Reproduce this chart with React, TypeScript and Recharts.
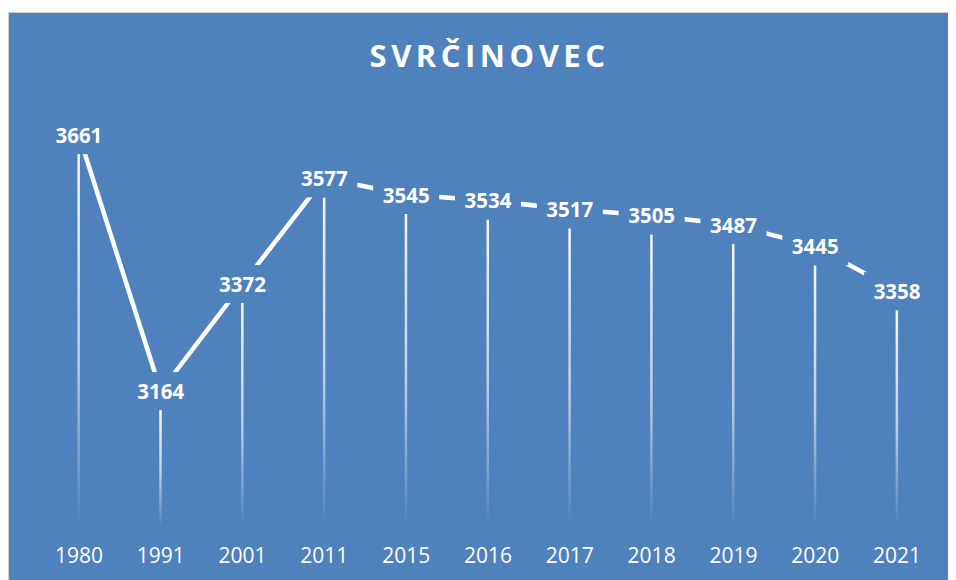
import { ComposedChart, Line, Bar, XAxis, YAxis, LabelList } from 'recharts'

// ─── Datos ────────────────────────────────────────────────────────────────────

const ROKY = ['1980', '1991', '2001', '2011', '2015', '2016', '2017', '2018', '2019', '2020', '2021']
const OBYVATELIA = [3661, 3164, 3372, 3577, 3545, 3534, 3517, 3505, 3487, 3445, 3358]
const Y_DOMENA: [number, number] = [2900, 3700]

const data = ROKY.map((rok, i) => ({ rok, pocet: OBYVATELIA[i] }))

const MODRA = '#4F81BD'
const FONT = '"Open Sans", "DejaVu Sans", sans-serif'

// drop line: tenká čiara od bodu dole, stráca sa do pozadia
function DropLine(props: any) {
  const { x, y, width, height } = props
  const gap = 19
  if (height <= gap) return null
  return (
    <rect
      x={x + width / 2 - 1.25}
      y={y + gap}
      width={2.5}
      height={height - gap}
      fill="url(#dropGrad)"
    />
  )
}

// popisok s modrým podkladom, prekrýva čiaru
function Popis(props: any) {
  const { x, y, value } = props
  return (
    <g>
      <rect x={x - 33} y={y - 19} width={66} height={38} fill={MODRA} />
      <text
        x={x}
        y={y}
        textAnchor="middle"
        dominantBaseline="central"
        fill="#fff"
        fontFamily={FONT}
        fontWeight={700}
        fontSize={20.5}
      >
        {value}
      </text>
    </g>
  )
}

export default function App() {
  return (
    <div
      style={{
        position: 'relative',
        marginTop: 4,
        width: 947,
        height: 567,
        background: MODRA,
        borderTop: '1px solid #d0d0d0',
        borderLeft: '1px solid #d0d0d0',
      }}
    >
      <div
        style={{
          position: 'absolute',
          top: 21,
          left: 0,
          width: 947,
          textAlign: 'center',
          color: '#fff',
          fontFamily: FONT,
          fontWeight: 700,
          fontSize: 31,
          letterSpacing: 4.5,
          paddingLeft: 14,
          boxSizing: 'border-box',
        }}
      >
        SVRČINOVEC
      </div>
      <ComposedChart
        width={947}
        height={567}
        data={data}
        margin={{ top: 102, right: 18, bottom: 0, left: 29 }}
      >
        <defs>
          <linearGradient id="dropGrad" x1="0" y1="0" x2="0" y2="1">
            <stop offset="0%" stopColor="#fff" stopOpacity={0.95} />
            <stop offset="55%" stopColor="#fff" stopOpacity={0.6} />
            <stop offset="100%" stopColor="#fff" stopOpacity={0} />
          </linearGradient>
        </defs>
        <XAxis
          dataKey="rok"
          height={53}
          axisLine={false}
          tickLine={false}
          tickMargin={15}
          interval={0}
          tick={{ fill: '#fff', fontSize: 21, fontFamily: FONT }}
        />
        <YAxis hide domain={Y_DOMENA} allowDataOverflow />
        <Bar dataKey="pocet" shape={DropLine} isAnimationActive={false} />
        <Line
          dataKey="pocet"
          stroke="#fff"
          strokeWidth={4.5}
          dot={false}
          activeDot={false}
          isAnimationActive={false}
        >
          <LabelList dataKey="pocet" content={Popis} />
        </Line>
      </ComposedChart>
    </div>
  )
}
